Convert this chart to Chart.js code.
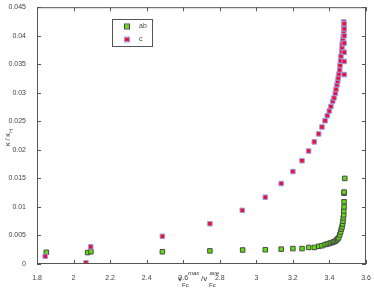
<!DOCTYPE html>
<html>
<head>
<meta charset="utf-8">
<script src="https://cdn.jsdelivr.net/npm/chart.js@4/dist/chart.umd.min.js"></script>
<style>
  html, body { margin: 0; padding: 0; background: #fff; }
  #wrap { width: 374px; height: 289px; }
</style>
</head>
<body>
<div id="wrap"><canvas id="myChart" width="374" height="289"></canvas></div>
<script>
// series values
const abX = [1.851, 2.077, 2.095, 2.486, 2.746, 2.925, 3.049, 3.136, 3.2, 3.25, 3.286, 3.317, 3.341, 3.359,
  3.376, 3.388, 3.399, 3.408, 3.418, 3.425, 3.432, 3.439, 3.445, 3.45, 3.456, 3.461, 3.465, 3.469, 3.472,
  3.474, 3.476, 3.478, 3.478, 3.48, 3.48, 3.48, 3.48, 3.484];
const abY = [0.00205, 0.002, 0.00215, 0.00215, 0.0023, 0.00245, 0.0025, 0.0026, 0.0027, 0.0027, 0.0029, 0.0029,
  0.0031, 0.0032, 0.0034, 0.0035, 0.0036, 0.0037, 0.0038, 0.0039, 0.004, 0.0042, 0.0044, 0.0046, 0.0051,
  0.0056, 0.0061, 0.0065, 0.007, 0.0075, 0.0081, 0.0086, 0.0093, 0.01, 0.0109, 0.0124, 0.0126, 0.015];

const cX = [1.845, 2.068, 2.094, 2.486, 2.746, 2.923, 3.049, 3.136, 3.2, 3.25, 3.286, 3.317, 3.341, 3.359,
  3.376, 3.388, 3.399, 3.408, 3.418, 3.425, 3.432, 3.436, 3.441, 3.445, 3.448, 3.452, 3.456, 3.458, 3.461,
  3.463, 3.467, 3.469, 3.47, 3.474, 3.476, 3.478, 3.478, 3.478,
  3.481, 3.481, 3.481, 3.481, 3.481, 3.481, 3.481];
const cY = [0.00135, 0.0002, 0.003, 0.00485, 0.00706, 0.0094, 0.0117, 0.0141, 0.0162, 0.0181, 0.0198, 0.0214,
  0.0228, 0.024, 0.0251, 0.026, 0.0268, 0.0276, 0.0285, 0.0291, 0.0299, 0.0306, 0.0314, 0.032, 0.0326,
  0.0333, 0.034, 0.0348, 0.0356, 0.0364, 0.0372, 0.0379, 0.0386, 0.0393, 0.04, 0.0407, 0.0415, 0.0424,
  0.0332, 0.0355, 0.0371, 0.0387, 0.04, 0.0412, 0.0421];

const xTicks = [1.8, 2, 2.2, 2.4, 2.6, 2.8, 3, 3.2, 3.4, 3.6];
const yTicks = [0, 0.005, 0.01, 0.015, 0.02, 0.025, 0.03, 0.035, 0.04, 0.045];
const seriesNames = ["ab", "c"];

const green = "#5fdc0a";
const greenEdge = "#4a4a4a";
const red = "#ee1030";
const redEdge = "#9a9cf0";
const fontFam = "'Liberation Sans', Arial, sans-serif";

const toPoints = (xs, ys) => xs.map((x, i) => ({ x: x, y: ys[i] }));

// box, inner ticks, axis titles and legend, MATLAB style
const framePlugin = {
  id: "frame",
  afterDraw(chart) {
    const { ctx, chartArea: a, scales } = chart;
    ctx.save();
    ctx.strokeStyle = "#555";
    ctx.lineWidth = 1;
    ctx.strokeRect(a.left + 0.5, a.top + 0.5, a.right - a.left - 1, a.bottom - a.top - 1);
    ctx.beginPath();
    xTicks.forEach((t) => {
      const px = Math.round(scales.x.getPixelForValue(t)) + 0.5;
      ctx.moveTo(px, a.bottom);
      ctx.lineTo(px, a.bottom - 4);
      ctx.moveTo(px, a.top);
      ctx.lineTo(px, a.top + 4);
    });
    yTicks.forEach((t) => {
      const py = Math.round(scales.y.getPixelForValue(t)) + 0.5;
      ctx.moveTo(a.left, py);
      ctx.lineTo(a.left + 4, py);
      ctx.moveTo(a.right, py);
      ctx.lineTo(a.right - 4, py);
    });
    ctx.stroke();

    // x title: v_Fc^max / v_Fc^ave
    ctx.fillStyle = "#333";
    ctx.textBaseline = "alphabetic";
    ctx.textAlign = "left";
    ctx.font = "8px " + fontFam;
    ctx.fillText("v", 178, 281);
    ctx.fillText("/v", 201, 281);
    ctx.font = "6px " + fontFam;
    ctx.fillText("Fc", 182, 287);
    ctx.fillText("Fc", 209, 287);
    ctx.font = "italic 6px " + fontFam;
    ctx.fillText("max", 188, 275);
    ctx.fillText("ave", 209.5, 275);

    // y title: κ / κ_H
    ctx.save();
    ctx.translate(10, 146);
    ctx.rotate(-Math.PI / 2);
    ctx.font = "7px " + fontFam;
    ctx.fillText("\u03ba / \u03ba", 0, 0);
    const w = ctx.measureText("\u03ba / \u03ba").width;
    ctx.font = "5px " + fontFam;
    ctx.fillText("H", w + 0.5, 2.5);
    ctx.restore();

    // legend
    ctx.fillStyle = "#fff";
    ctx.fillRect(112, 19, 40, 27);
    ctx.strokeStyle = "#555";
    ctx.strokeRect(112.5, 19.5, 40, 27);
    const marks = [[green, greenEdge, 26.5], [red, redEdge, 39.5]];
    marks.forEach((m, i) => {
      ctx.fillStyle = m[0];
      ctx.strokeStyle = m[1];
      ctx.fillRect(125, m[2] - 2, 4, 4);
      ctx.strokeRect(124.5, m[2] - 2.5, 5, 5);
      ctx.fillStyle = "#444";
      ctx.font = "7px " + fontFam;
      ctx.textBaseline = "middle";
      ctx.fillText(seriesNames[i], 139, m[2]);
    });
    ctx.restore();
  },
};

const ctx = document.querySelector("#myChart").getContext("2d");

const config = {
  type: "scatter",
  data: {
    datasets: [
      {
        label: seriesNames[1],
        data: toPoints(cX, cY),
        pointStyle: "rect",
        pointRadius: 3.2,
        borderWidth: 1,
        backgroundColor: red,
        borderColor: redEdge,
      },
      {
        label: seriesNames[0],
        data: toPoints(abX, abY),
        pointStyle: "rect",
        pointRadius: 3.2,
        borderWidth: 1,
        backgroundColor: green,
        borderColor: greenEdge,
      },
    ],
  },
  options: {
    responsive: false,
    animation: false,
    layout: { padding: { top: 7, right: 8, left: 0, bottom: 0 } },
    scales: {
      x: {
        type: "linear",
        min: 1.8,
        max: 3.6,
        afterFit: (s) => { s.height = 25; },
        afterBuildTicks: (s) => { s.ticks = xTicks.map((v) => ({ value: v })); },
        ticks: {
          padding: 2,
          color: "#444",
          font: { family: fontFam, size: 7 },
          callback: (v) => String(Math.round(v * 10) / 10),
        },
        grid: { display: false },
        border: { display: false },
      },
      y: {
        type: "linear",
        min: 0,
        max: 0.045,
        afterFit: (s) => { s.width = 37; },
        afterBuildTicks: (s) => { s.ticks = yTicks.map((v) => ({ value: v })); },
        ticks: {
          padding: 3,
          color: "#444",
          font: { family: fontFam, size: 7 },
          callback: (v) => String(Math.round(v * 1000) / 1000),
        },
        grid: { display: false },
        border: { display: false },
      },
    },
    plugins: {
      legend: { display: false },
      tooltip: { enabled: false },
    },
  },
  plugins: [framePlugin],
};

const myChart = new Chart(ctx, config);
</script>
</body>
</html>
